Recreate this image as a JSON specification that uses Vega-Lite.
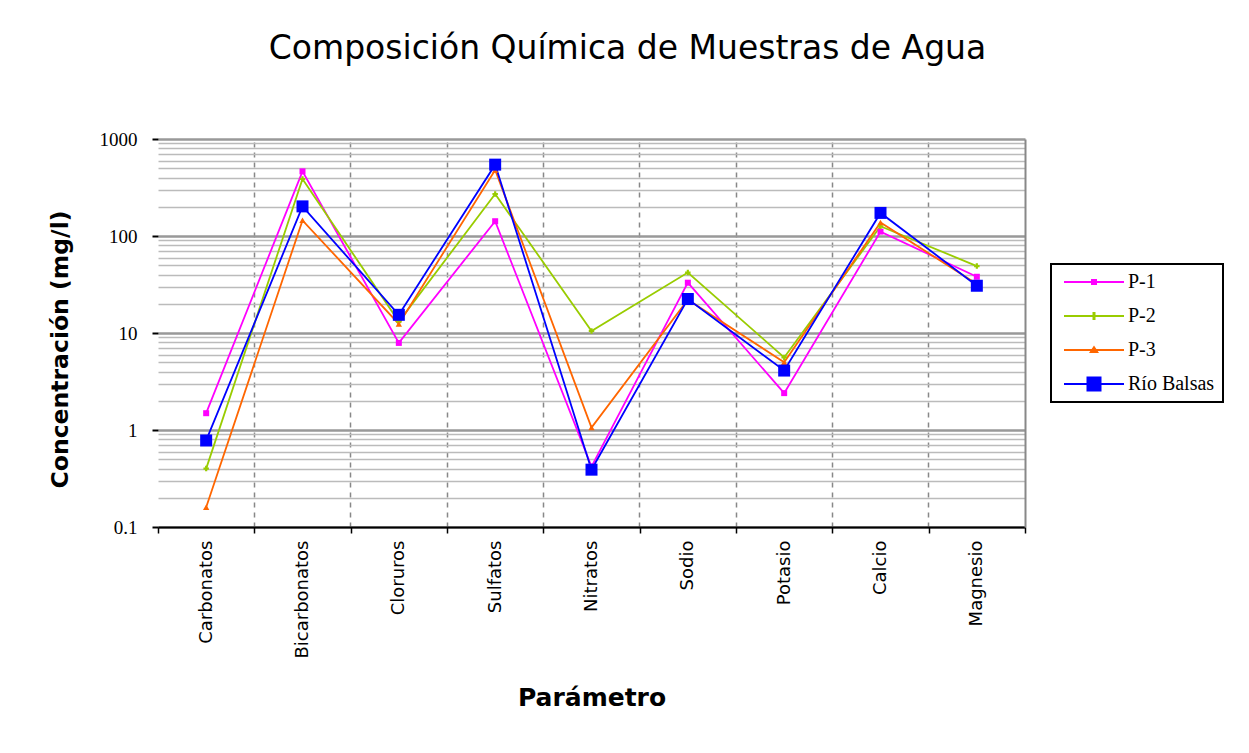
{
  "$schema": "https://vega.github.io/schema/vega-lite/v6.json",
  "width": 867,
  "height": 388,
  "autosize": {"type": "none"},
  "padding": {"left": 158, "top": 139, "right": 224, "bottom": 226},
  "background": "white",
  "title": {"text": "Composición Química de Muestras de Agua", "font": "DejaVu Sans", "fontSize": 33, "fontWeight": "normal", "color": "black", "anchor": "middle", "dx": 36, "offset": 64},
  "config": {"view": {"stroke": null}},
  "data": {"values": [
    {"param": "Carbonatos", "serie": "P-1", "value": 1.49},
    {"param": "Carbonatos", "serie": "P-2", "value": 0.40},
    {"param": "Carbonatos", "serie": "P-3", "value": 0.16},
    {"param": "Carbonatos", "serie": "Río Balsas", "value": 0.78},
    {"param": "Bicarbonatos", "serie": "P-1", "value": 464},
    {"param": "Bicarbonatos", "serie": "P-2", "value": 387},
    {"param": "Bicarbonatos", "serie": "P-3", "value": 145},
    {"param": "Bicarbonatos", "serie": "Río Balsas", "value": 202},
    {"param": "Cloruros", "serie": "P-1", "value": 7.9},
    {"param": "Cloruros", "serie": "P-2", "value": 13.1},
    {"param": "Cloruros", "serie": "P-3", "value": 12.4},
    {"param": "Cloruros", "serie": "Río Balsas", "value": 15.4},
    {"param": "Sulfatos", "serie": "P-1", "value": 142},
    {"param": "Sulfatos", "serie": "P-2", "value": 271},
    {"param": "Sulfatos", "serie": "P-3", "value": 480},
    {"param": "Sulfatos", "serie": "Río Balsas", "value": 544},
    {"param": "Nitratos", "serie": "P-1", "value": 0.42},
    {"param": "Nitratos", "serie": "P-2", "value": 10.5},
    {"param": "Nitratos", "serie": "P-3", "value": 1.06},
    {"param": "Nitratos", "serie": "Río Balsas", "value": 0.39},
    {"param": "Sodio", "serie": "P-1", "value": 33},
    {"param": "Sodio", "serie": "P-2", "value": 42},
    {"param": "Sodio", "serie": "P-3", "value": 22},
    {"param": "Sodio", "serie": "Río Balsas", "value": 22.4},
    {"param": "Potasio", "serie": "P-1", "value": 2.4},
    {"param": "Potasio", "serie": "P-2", "value": 5.6},
    {"param": "Potasio", "serie": "P-3", "value": 5.0},
    {"param": "Potasio", "serie": "Río Balsas", "value": 4.1},
    {"param": "Calcio", "serie": "P-1", "value": 111},
    {"param": "Calcio", "serie": "P-2", "value": 126},
    {"param": "Calcio", "serie": "P-3", "value": 138},
    {"param": "Calcio", "serie": "Río Balsas", "value": 173},
    {"param": "Magnesio", "serie": "P-1", "value": 38},
    {"param": "Magnesio", "serie": "P-2", "value": 49},
    {"param": "Magnesio", "serie": "P-3", "value": 32},
    {"param": "Magnesio", "serie": "Río Balsas", "value": 30.7}
  ]},
  "resolve": {"axis": {"x": "independent", "y": "independent"}},
  "layer": [
    {
      "mark": {"type": "line", "strokeWidth": 1.8},
      "encoding": {
        "x": {"field": "param", "type": "nominal", "bandPosition": 0.5,
          "sort": ["Carbonatos", "Bicarbonatos", "Cloruros", "Sulfatos", "Nitratos", "Sodio", "Potasio", "Calcio", "Magnesio"],
          "scale": {"type": "band", "paddingInner": 0, "paddingOuter": 0},
          "axis": {"orient": "bottom", "title": "Parámetro", "titleFont": "DejaVu Sans", "titleFontSize": 25, "titleFontWeight": "bold", "titleColor": "black", "titleBaseline": "top", "titleY": 158,
            "labelFont": "DejaVu Sans", "labelFontSize": 18, "labelColor": "black", "labelAngle": 270, "labelPadding": 7,
            "tickBand": "extent", "tickColor": "black", "tickSize": 6, "tickWidth": 1.5, "domainColor": "black", "domainWidth": 2, "grid": false}},
        "y": {"field": "value", "type": "quantitative",
          "scale": {"type": "log", "domain": [0.1, 1000], "nice": false},
          "axis": {"orient": "left", "title": "Concentración (mg/l)", "titleFont": "DejaVu Sans", "titleFontSize": 23.5, "titleFontWeight": "bold", "titleColor": "black", "titleX": -86, "titleY": 210,
            "values": [0.1, 1, 10, 100, 1000], "format": "~g", "labelFont": "Liberation Serif", "labelFontSize": 19, "labelColor": "black", "labelPadding": 15,
            "tickColor": "black", "tickSize": 6, "tickWidth": 2, "domain": false, "grid": true, "gridColor": "#999999", "gridWidth": 2.5}},
        "color": {"field": "serie", "type": "nominal",
          "scale": {"domain": ["P-1", "P-2", "P-3", "Río Balsas"], "range": ["#FF00FF", "#99CC00", "#FF6600", "#0000FF"]}},
        "order": {"field": "serie"}
      }
    },
    {
      "transform": [{"filter": {"field": "serie", "equal": "P-1"}}],
      "mark": {"type": "point", "shape": "square", "filled": true, "size": 36, "opacity": 1},
      "encoding": {
        "x": {"field": "param", "type": "nominal", "bandPosition": 0.5, "sort": ["Carbonatos", "Bicarbonatos", "Cloruros", "Sulfatos", "Nitratos", "Sodio", "Potasio", "Calcio", "Magnesio"], "axis": null},
        "y": {"field": "value", "type": "quantitative", "axis": null},
        "color": {"field": "serie", "type": "nominal"}
      }
    },
    {
      "transform": [{"filter": {"field": "serie", "equal": "P-2"}}],
      "mark": {"type": "point", "shape": "cross", "filled": true, "size": 30, "opacity": 1},
      "encoding": {
        "x": {"field": "param", "type": "nominal", "bandPosition": 0.5, "sort": ["Carbonatos", "Bicarbonatos", "Cloruros", "Sulfatos", "Nitratos", "Sodio", "Potasio", "Calcio", "Magnesio"], "axis": null},
        "y": {"field": "value", "type": "quantitative", "axis": null},
        "color": {"field": "serie", "type": "nominal"}
      }
    },
    {
      "transform": [{"filter": {"field": "serie", "equal": "P-3"}}],
      "mark": {"type": "point", "shape": "triangle-up", "filled": true, "size": 40, "opacity": 1},
      "encoding": {
        "x": {"field": "param", "type": "nominal", "bandPosition": 0.5, "sort": ["Carbonatos", "Bicarbonatos", "Cloruros", "Sulfatos", "Nitratos", "Sodio", "Potasio", "Calcio", "Magnesio"], "axis": null},
        "y": {"field": "value", "type": "quantitative", "axis": null},
        "color": {"field": "serie", "type": "nominal"}
      }
    },
    {
      "transform": [{"filter": {"field": "serie", "equal": "Río Balsas"}}],
      "mark": {"type": "point", "shape": "square", "filled": true, "size": 144, "opacity": 1},
      "encoding": {
        "x": {"field": "param", "type": "nominal", "bandPosition": 0.5, "sort": ["Carbonatos", "Bicarbonatos", "Cloruros", "Sulfatos", "Nitratos", "Sodio", "Potasio", "Calcio", "Magnesio"], "axis": null},
        "y": {"field": "value", "type": "quantitative", "axis": null},
        "color": {"field": "serie", "type": "nominal"}
      }
    },
    {
      "mark": {"type": "point", "filled": true, "opacity": 0},
      "encoding": {
        "x": {"field": "param", "type": "nominal", "bandPosition": 0.5,
          "sort": ["Carbonatos", "Bicarbonatos", "Cloruros", "Sulfatos", "Nitratos", "Sodio", "Potasio", "Calcio", "Magnesio"],
          "axis": {"orient": "top", "title": null, "values": ["Bicarbonatos", "Cloruros", "Sulfatos", "Nitratos", "Sodio", "Potasio", "Calcio", "Magnesio"],
            "bandPosition": 0, "grid": true, "gridColor": "#888888", "gridWidth": 1.5, "gridDash": [5, 5], "labels": false, "ticks": false, "domain": false}},
        "y": {"field": "value", "type": "quantitative",
          "axis": {"orient": "right", "title": null, "values": [0.2, 0.3, 0.4, 0.5, 0.6, 0.7, 0.8, 0.9, 2, 3, 4, 5, 6, 7, 8, 9, 20, 30, 40, 50, 60, 70, 80, 90, 200, 300, 400, 500, 600, 700, 800, 900],
            "grid": true, "gridColor": "#BBBBBB", "gridWidth": 1.5, "labels": false, "ticks": false, "domain": true, "domainColor": "#888888", "domainWidth": 2}},
        "color": {"field": "serie", "type": "nominal",
          "legend": {"orient": "none", "legendX": 893, "legendY": 125, "title": null, "strokeColor": "black", "fillColor": "white", "padding": 8, "rowPadding": 14, "symbolSize": 100, "symbolOffset": 25, "labelOffset": 24, "labelFont": "Liberation Serif", "labelFontSize": 20, "labelColor": "black", "symbolStrokeWidth": 0, "symbolOpacity": 1,
            "encode": {"legend": {"update": {"strokeWidth": {"value": 2}}}}}},
        "shape": {"field": "serie", "type": "nominal",
          "scale": {"domain": ["P-1", "P-2", "P-3", "Río Balsas"], "range": [
            "M-6,-0.2H6V0.2H-6Z M-0.6,-0.6H0.6V0.6H-0.6Z",
            "M-6,-0.2H6V0.2H-6Z M-0.3,-0.8H0.3V0.8H-0.3Z",
            "M-6,-0.2H6V0.2H-6Z M-1,0.6L0,-0.9L1,0.6Z",
            "M-6,-0.2H6V0.2H-6Z M-1.5,-1.5H1.5V1.5H-1.5Z"]},
          "legend": {"orient": "none", "legendX": 893, "legendY": 125, "title": null, "strokeColor": "black", "fillColor": "white", "padding": 8, "rowPadding": 14, "symbolSize": 100, "symbolOffset": 25, "labelOffset": 24, "labelFont": "Liberation Serif", "labelFontSize": 20, "labelColor": "black", "symbolStrokeWidth": 0, "symbolOpacity": 1,
            "encode": {"legend": {"update": {"strokeWidth": {"value": 2}}}}}}
      }
    }
  ]
}
